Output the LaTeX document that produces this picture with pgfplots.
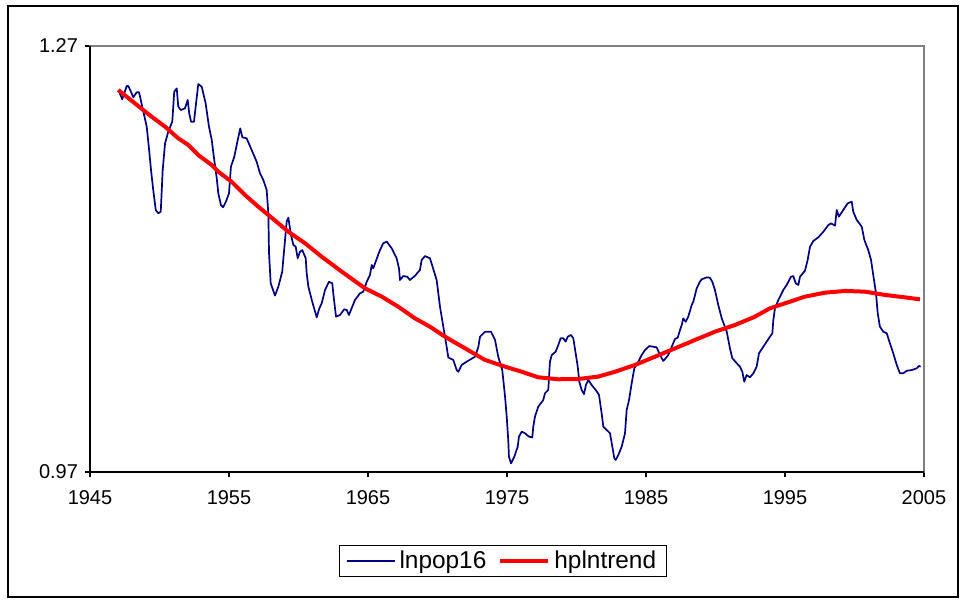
\documentclass[border=0pt]{standalone}
\usepackage{fontspec}
\setmainfont{Liberation Sans}
\usepackage{pgfplots}
\pgfplotsset{compat=1.18}
\usepackage{pgfplotstable}
\definecolor{navyline}{RGB}{0,0,128}
\definecolor{framegray}{RGB}{128,128,128}

\pgfplotstableread{
year val
1947.04 1.2390
1947.32 1.2325
1947.64 1.2418
1947.76 1.2418
1948.12 1.2339
1948.36 1.2374
1948.53 1.2374
1948.76 1.2273
1949.08 1.2132
1949.24 1.1982
1949.39 1.1827
1949.55 1.1686
1949.73 1.1545
1949.91 1.1522
1950.09 1.1533
1950.23 1.1827
1950.40 1.2015
1950.63 1.2096
1950.92 1.2167
1951.06 1.2378
1951.24 1.2402
1951.35 1.2273
1951.53 1.2249
1951.83 1.2261
1952.03 1.2320
1952.14 1.2226
1952.27 1.2167
1952.48 1.2167
1952.63 1.2296
1952.79 1.2432
1953.04 1.2413
1953.32 1.2296
1953.56 1.2132
1953.76 1.2038
1953.94 1.1897
1954.12 1.1768
1954.23 1.1663
1954.42 1.1580
1954.57 1.1564
1954.78 1.1604
1955.00 1.1663
1955.14 1.1850
1955.38 1.1920
1955.63 1.2038
1955.81 1.2120
1955.96 1.2057
1956.27 1.2050
1956.63 1.1968
1956.99 1.1885
1957.23 1.1804
1957.47 1.1756
1957.71 1.1686
1957.83 1.1522
1957.88 1.1240
1958.00 1.1029
1958.31 1.0942
1958.55 1.1005
1958.83 1.1111
1959.03 1.1334
1959.15 1.1463
1959.27 1.1491
1959.46 1.1369
1959.63 1.1299
1959.80 1.1287
1959.94 1.1205
1960.11 1.1251
1960.27 1.1263
1960.52 1.1205
1960.59 1.1099
1960.71 1.1005
1960.99 1.0899
1961.31 1.0789
1961.50 1.0853
1961.67 1.0888
1961.91 1.0982
1962.19 1.1040
1962.43 1.1029
1962.53 1.0935
1962.70 1.0794
1962.99 1.0806
1963.29 1.0846
1963.47 1.0841
1963.63 1.0806
1964.06 1.0911
1964.42 1.0958
1964.66 1.0970
1964.91 1.1040
1965.14 1.1087
1965.27 1.1158
1965.38 1.1134
1965.55 1.1181
1965.86 1.1263
1966.10 1.1311
1966.35 1.1322
1966.71 1.1275
1967.06 1.1205
1967.23 1.1134
1967.30 1.1052
1967.54 1.1080
1967.83 1.1075
1968.02 1.1052
1968.38 1.1082
1968.74 1.1123
1968.86 1.1193
1969.10 1.1221
1969.46 1.1205
1969.94 1.1052
1970.18 1.0864
1970.54 1.0653
1970.78 1.0506
1971.14 1.0489
1971.38 1.0418
1971.50 1.0406
1971.74 1.0454
1972.10 1.0477
1972.70 1.0512
1972.94 1.0582
1973.06 1.0653
1973.42 1.0688
1973.85 1.0688
1974.14 1.0630
1974.37 1.0512
1974.66 1.0418
1974.86 1.0230
1974.98 1.0089
1975.09 0.9925
1975.14 0.9808
1975.29 0.9761
1975.53 0.9808
1975.77 0.9878
1975.86 0.9949
1976.06 0.9984
1976.29 0.9973
1976.58 0.9949
1976.82 0.9944
1976.89 1.0019
1977.01 1.0089
1977.25 1.0160
1977.61 1.0207
1977.73 1.0254
1977.97 1.0278
1978.09 1.0477
1978.22 1.0524
1978.50 1.0547
1978.69 1.0594
1978.86 1.0642
1979.05 1.0642
1979.22 1.0618
1979.37 1.0653
1979.60 1.0665
1979.77 1.0642
1979.94 1.0536
1980.09 1.0442
1980.20 1.0336
1980.37 1.0278
1980.54 1.0249
1980.68 1.0313
1980.85 1.0348
1981.09 1.0313
1981.38 1.0278
1981.62 1.0243
1981.81 1.0113
1981.93 1.0019
1982.17 0.9996
1982.41 0.9973
1982.58 0.9878
1982.72 0.9797
1982.82 0.9785
1983.01 0.9820
1983.25 0.9878
1983.49 0.9973
1983.61 1.0137
1983.78 1.0207
1983.97 1.0325
1984.16 1.0430
1984.45 1.0477
1984.69 1.0524
1984.93 1.0559
1985.24 1.0587
1985.53 1.0582
1985.77 1.0578
1986.01 1.0524
1986.24 1.0482
1986.42 1.0501
1986.60 1.0524
1986.85 1.0582
1987.09 1.0637
1987.28 1.0646
1987.45 1.0700
1987.57 1.0735
1987.68 1.0782
1987.86 1.0758
1988.04 1.0794
1988.29 1.0876
1988.40 1.0899
1988.53 1.0947
1988.65 1.0994
1988.88 1.1040
1989.01 1.1057
1989.37 1.1071
1989.60 1.1068
1989.77 1.1040
1989.96 1.0982
1990.20 1.0876
1990.45 1.0782
1990.81 1.0688
1991.04 1.0571
1991.21 1.0501
1991.53 1.0466
1991.76 1.0442
1991.93 1.0406
1992.07 1.0336
1992.24 1.0383
1992.48 1.0367
1992.72 1.0395
1992.96 1.0442
1993.13 1.0536
1993.44 1.0582
1993.68 1.0618
1993.92 1.0653
1994.09 1.0677
1994.16 1.0770
1994.28 1.0853
1994.52 1.0911
1994.88 1.0982
1995.12 1.1017
1995.43 1.1075
1995.60 1.1080
1995.77 1.1029
1995.96 1.1017
1996.08 1.1075
1996.44 1.1118
1996.63 1.1193
1996.80 1.1287
1997.04 1.1327
1997.40 1.1353
1997.76 1.1392
1998.12 1.1439
1998.31 1.1451
1998.60 1.1435
1998.72 1.1545
1998.88 1.1498
1999.19 1.1545
1999.51 1.1592
1999.80 1.1604
1999.91 1.1533
2000.16 1.1475
2000.52 1.1428
2000.71 1.1334
2000.99 1.1263
2001.19 1.1193
2001.35 1.1087
2001.55 1.0958
2001.67 1.0818
2001.83 1.0723
2002.07 1.0688
2002.32 1.0677
2002.55 1.0606
2002.79 1.0536
2003.04 1.0454
2003.27 1.0395
2003.51 1.0395
2003.76 1.0413
2004.12 1.0418
2004.47 1.0430
2004.64 1.0447
2004.76 1.0442
}\lnpop

\pgfplotstableread{
year val
1947.04 1.2390
1948.83 1.2249
1949.44 1.2202
1950.40 1.2132
1951.35 1.2050
1952.07 1.2003
1952.79 1.1932
1953.76 1.1862
1954.23 1.1815
1955.19 1.1744
1956.15 1.1651
1957.11 1.1568
1957.83 1.1510
1959.27 1.1392
1960.47 1.1311
1961.67 1.1216
1963.11 1.1111
1964.78 1.0994
1965.99 1.0935
1967.18 1.0864
1968.38 1.0782
1969.46 1.0723
1970.54 1.0653
1971.98 1.0571
1973.42 1.0489
1974.86 1.0442
1976.06 1.0406
1977.25 1.0367
1978.69 1.0353
1980.13 1.0355
1981.57 1.0372
1982.77 1.0406
1984.21 1.0454
1985.65 1.0512
1987.09 1.0571
1988.53 1.0630
1989.96 1.0688
1991.40 1.0735
1992.84 1.0794
1993.92 1.0853
1995.00 1.0888
1996.44 1.0935
1997.88 1.0963
1999.32 1.0975
2000.76 1.0970
2002.19 1.0947
2003.63 1.0930
2004.71 1.0916
}\hptrend

\begin{document}
\begin{tikzpicture}
\useasboundingbox (-45pt,-64.5pt) rectangle (437pt,236pt);
\draw[black, line width=0.8pt] (-41pt,-62.5pt) rectangle (434pt,233pt);
\begin{axis}[
  at={(0pt,0pt)}, anchor=south west,
  width=417pt, height=213pt, scale only axis,
  xmin=1945, xmax=2005, ymin=0.97, ymax=1.27,
  xtick={1945,1955,...,2005},
  ytick={0.97,1.27},
  tick align=outside,
  major tick length=2.5pt,
  xtick pos=bottom, ytick pos=left,
  axis line style={draw=framegray, line width=0.6pt},
  tick style={black, line width=0.6pt},
  ticklabel style={font=\fontsize{10}{12}\selectfont},
  /pgf/number format/assume math mode=true,
  x tick label style={/pgf/number format/1000 sep={}, yshift=-3pt},
  y tick label style={/pgf/number format/.cd, fixed, fixed zerofill, precision=2},
  legend style={at={(0.4952,-0.2089)}, anchor=center, legend columns=2,
    draw=black, line width=0.6pt, font=\fontsize{12.2}{13}\selectfont,
    inner xsep=3pt, inner ysep=0.5pt,
    /tikz/every even column/.append style={column sep=4pt}},
  legend image code/.code={\draw[#1] (0pt,0pt) -- (24pt,0pt);},
  clip=false,
]
\addplot[navyline, line width=0.85pt, line join=round] table[x=year, y=val] {\lnpop};
\addlegendentry{lnpop16}
\addplot[red, line width=2pt, line join=round] table[x=year, y=val] {\hptrend};
\addlegendentry{hplntrend}
\draw[black, line width=0.6pt] (rel axis cs:0,1) -- (rel axis cs:0,0) -- (rel axis cs:1,0);
\end{axis}
\end{tikzpicture}
\end{document}
